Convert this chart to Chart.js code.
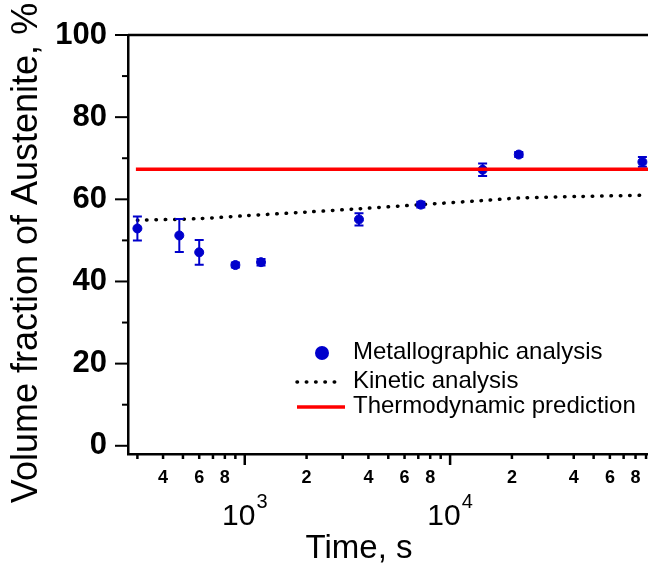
<!DOCTYPE html>
<html>
<head>
<meta charset="utf-8">
<script src="https://cdn.jsdelivr.net/npm/chart.js@4.4.0/dist/chart.umd.min.js"></script>
<style>body{margin:0;background:#fff}</style>
</head>
<body>
<canvas id="grafico" width="648" height="569"></canvas>
<script>
const FONT = "'Liberation Sans', Arial, sans-serif";

// metallographic analysis (time in s, volume fraction %, error bar half width)
const metTimes = [300, 480, 600, 900, 1200, 3600, 7200, 14400, 21600, 86400];
const metValues = [52.9, 51.2, 47.1, 44.0, 44.7, 55.1, 58.7, 67.2, 70.9, 69.1];
const metErrors = [2.9, 4.0, 3.0, 0.6, 0.8, 1.5, 0.7, 1.5, 0.6, 1.2];

// kinetic analysis curve
const kinTimes = [300, 600, 1000, 2000, 3600, 7200, 14400, 21600, 43200, 92000];
const kinValues = [54.9, 55.3, 56.0, 56.9, 57.7, 58.7, 59.7, 60.3, 60.7, 61.0];

// thermodynamic prediction
const thermoTimes = [295, 92000];
const thermoValues = [67.3, 67.3];

// axes
const xTitle = 'Time, s';
const yTitle = 'Volume fraction of Austenite, %';
const yTickValues = [0, 10, 20, 30, 40, 50, 60, 70, 80, 90, 100];
const yLabelStep = 20;
const xDecades = [100, 1000, 10000];
const xMajorTicks = [1000, 10000];
const xLabeledMantissas = [2, 4, 6, 8];

const xTickValues = [];
xDecades.forEach(d => {
  for (let m = 1; m <= 9; m++) {
    const v = m * d;
    if (v >= 300 && v <= 90000) xTickValues.push(v);
  }
});

const mantissa = v => Math.round(v / Math.pow(10, Math.floor(Math.log10(v) + 1e-9)));

const BLUE = '#0000cc';
const RED = '#ff0000';

const pts = (xs, ys) => xs.map((x, i) => ({x: x, y: ys[i]}));

const decor = {
  id: 'decor',
  afterDatasetDraw(chart, args) {
    if (args.index !== 0) return;
    const ctx = chart.ctx;
    const xs = chart.scales.x, ys = chart.scales.y;
    const a = chart.chartArea;
    ctx.save();
    ctx.beginPath();
    ctx.rect(a.left, a.top, a.right - a.left, a.bottom - a.top);
    ctx.clip();
    ctx.strokeStyle = BLUE;
    ctx.lineWidth = 2;
    metTimes.forEach((t, i) => {
      const x = xs.getPixelForValue(t);
      const y1 = ys.getPixelForValue(metValues[i] - metErrors[i]);
      const y2 = ys.getPixelForValue(metValues[i] + metErrors[i]);
      ctx.beginPath();
      ctx.moveTo(x, y1); ctx.lineTo(x, y2);
      ctx.moveTo(x - 4.5, y1); ctx.lineTo(x + 4.5, y1);
      ctx.moveTo(x - 4.5, y2); ctx.lineTo(x + 4.5, y2);
      ctx.stroke();
    });
    ctx.restore();
  },
  afterDraw(chart) {
    const ctx = chart.ctx;
    const xs = chart.scales.x, ys = chart.scales.y;
    const a = chart.chartArea;
    ctx.save();
    ctx.strokeStyle = '#000';
    ctx.lineWidth = 2.5;
    // top frame
    ctx.beginPath();
    ctx.moveTo(a.left, a.top); ctx.lineTo(a.right, a.top);
    ctx.stroke();
    // y ticks
    ctx.lineWidth = 2;
    yTickValues.forEach(v => {
      const y = ys.getPixelForValue(v);
      const len = v % yLabelStep === 0 ? 13 : 6;
      ctx.beginPath();
      ctx.moveTo(a.left - len, y); ctx.lineTo(a.left, y);
      ctx.stroke();
    });
    // x ticks
    ctx.lineWidth = 2.5;
    xTickValues.forEach(v => {
      const x = xs.getPixelForValue(v);
      const len = xMajorTicks.includes(v) ? 11 : 5;
      ctx.beginPath();
      ctx.moveTo(x, a.bottom); ctx.lineTo(x, a.bottom + len);
      ctx.stroke();
    });
    // decade labels 10^n
    ctx.fillStyle = '#000';
    ctx.textBaseline = 'alphabetic';
    xMajorTicks.forEach(v => {
      const x = xs.getPixelForValue(v);
      const exp = String(Math.round(Math.log10(v)));
      ctx.font = '30px ' + FONT;
      const wb = ctx.measureText('10').width;
      ctx.font = '20px ' + FONT;
      const we = ctx.measureText(exp).width;
      const x0 = x - (wb + we + 1) / 2;
      ctx.font = '30px ' + FONT;
      ctx.textAlign = 'left';
      ctx.fillText('10', x0, 525);
      ctx.font = '20px ' + FONT;
      ctx.fillText(exp, x0 + wb + 1, 508);
    });
    // axis titles
    ctx.textAlign = 'center';
    ctx.textBaseline = 'middle';
    ctx.font = '33px ' + FONT;
    ctx.fillText(xTitle, 359, 549);
    ctx.save();
    ctx.translate(27, 253);
    ctx.rotate(-Math.PI / 2);
    ctx.font = '36px ' + FONT;
    ctx.fillText(yTitle, 0, 0);
    ctx.restore();
    // legend
    const lx = 297, tx = 353;
    const rows = [352, 381, 406];
    ctx.font = '24px ' + FONT;
    ctx.textAlign = 'left';
    ctx.textBaseline = 'middle';
    chart.data.datasets.forEach((ds, i) => {
      const y = rows[i];
      if (i === 0) {
        ctx.fillStyle = BLUE;
        ctx.beginPath();
        ctx.arc(322, y + 1, 7, 0, Math.PI * 2);
        ctx.fill();
      } else {
        ctx.strokeStyle = ds.borderColor;
        ctx.lineWidth = ds.borderWidth;
        ctx.lineCap = ds.borderCapStyle || 'butt';
        ctx.setLineDash(ds.borderDash || []);
        ctx.beginPath();
        ctx.moveTo(lx, y + 1); ctx.lineTo(lx + (i === 1 ? 45 : 48), y + 1);
        ctx.stroke();
        ctx.setLineDash([]);
      }
      ctx.fillStyle = '#000';
      ctx.fillText(ds.label, tx, y);
    });
    ctx.restore();
  }
};

new Chart(document.getElementById('grafico').getContext('2d'), {
  type: 'line',
  data: {
    datasets: [
      {
        label: 'Metallographic analysis',
        data: pts(metTimes, metValues),
        showLine: false,
        pointRadius: 4.5,
        pointBackgroundColor: BLUE,
        pointBorderColor: BLUE,
        borderColor: BLUE,
        order: 1
      },
      {
        label: 'Kinetic analysis',
        data: pts(kinTimes, kinValues),
        borderColor: '#000',
        borderWidth: 3.5,
        borderDash: [0.5, 8.8],
        borderCapStyle: 'round',
        pointRadius: 0,
        tension: 0.3,
        order: 2
      },
      {
        label: 'Thermodynamic prediction',
        data: pts(thermoTimes, thermoValues),
        borderColor: RED,
        borderWidth: 3.5,
        pointRadius: 0,
        order: 0
      }
    ]
  },
  options: {
    responsive: false,
    animation: false,
    devicePixelRatio: 1,
    layout: {autoPadding: false, padding: {top: 35, right: 0, bottom: 0, left: 0}},
    plugins: {legend: {display: false}, tooltip: {enabled: false}},
    scales: {
      x: {
        type: 'logarithmic',
        min: 270,
        max: 92000,
        afterBuildTicks: s => { s.ticks = xTickValues.map(v => ({value: v})); },
        afterFit: s => { s.height = 115; s.paddingLeft = 0; s.paddingRight = 0; },
        grid: {display: false, drawTicks: false},
        border: {display: true, color: '#000', width: 2.5},
        ticks: {
          autoSkip: false, maxRotation: 0, minRotation: 0, padding: 13,
          color: '#000',
          font: {family: FONT, size: 18, weight: 'bold'},
          callback: v => xLabeledMantissas.includes(mantissa(v)) && !xMajorTicks.includes(v) ? String(mantissa(v)) : ''
        },
        title: {display: false}
      },
      y: {
        type: 'linear',
        min: -2,
        max: 100,
        afterBuildTicks: s => { s.ticks = yTickValues.map(v => ({value: v})); },
        afterFit: s => { s.width = 128; s.paddingTop = 0; s.paddingBottom = 0; },
        grid: {display: false, drawTicks: false},
        border: {display: true, color: '#000', width: 2.5},
        ticks: {
          autoSkip: false, padding: 21, color: '#000',
          font: {family: FONT, size: 31, weight: 'bold'},
          callback: v => v % yLabelStep === 0 ? String(v) : ''
        },
        title: {display: false}
      }
    }
  },
  plugins: [decor]
});
</script>
</body>
</html>
